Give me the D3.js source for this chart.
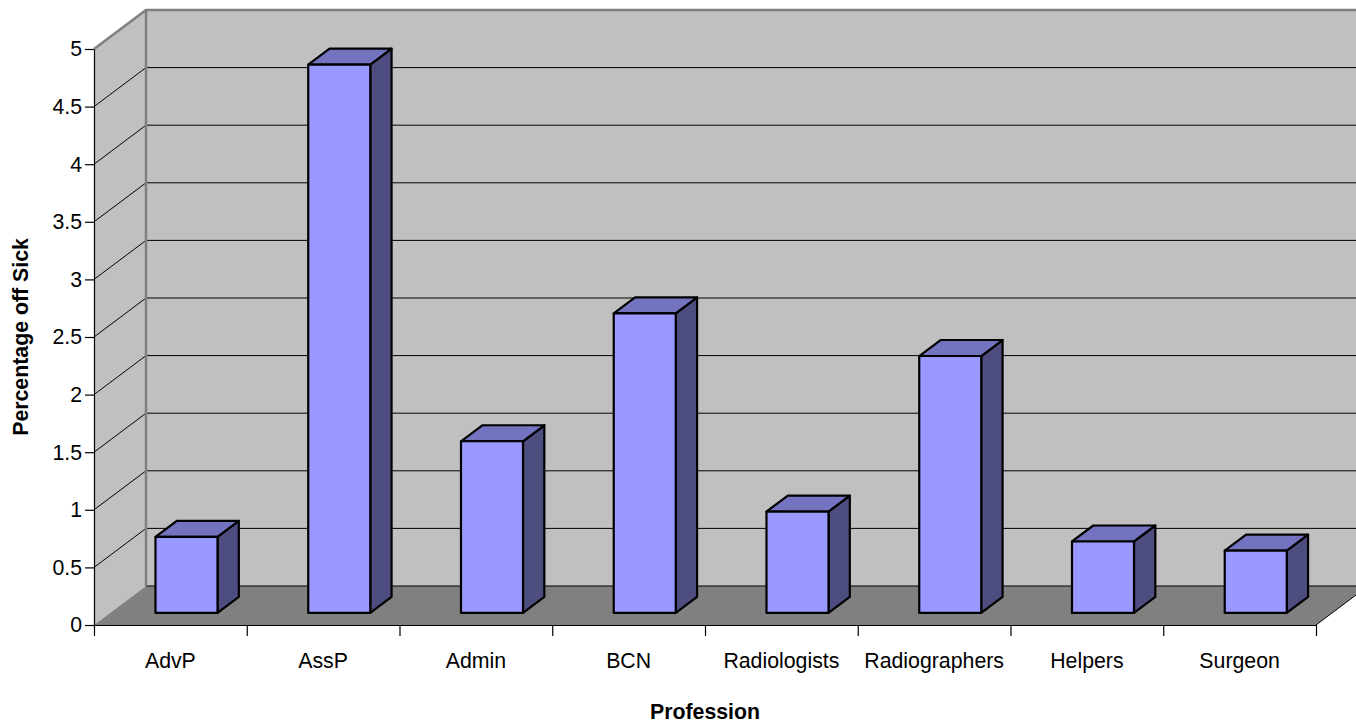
<!DOCTYPE html>
<html>
<head>
<meta charset="utf-8">
<script src="https://cdn.jsdelivr.net/npm/d3@7"></script>
<style>
  html, body { margin: 0; padding: 0; background: #ffffff; }
  svg { display: block; font-family: "Liberation Sans", Arial, sans-serif; }
</style>
</head>
<body>
<svg id="chart" width="1356" height="724"></svg>
<script>
// Sickness absence by profession
const categories = ["AdvP", "AssP", "Admin", "BCN", "Radiologists", "Radiographers", "Helpers", "Surgeon"];
const values = [0.66, 4.76, 1.49, 2.6, 0.88, 2.23, 0.62, 0.54];
const yTicks = [0, 0.5, 1, 1.5, 2, 2.5, 3, 3.5, 4, 4.5, 5];
const yTickLabels = ["0", "0.5", "1", "1.5", "2", "2.5", "3", "3.5", "4", "4.5", "5"];

(function () {
  const W = 1356;
  const fontSize = 21.3;
  const font = "'Liberation Sans', Arial, sans-serif";
  const svg = d3.select("#chart");

  // front plane of the plot and the depth vector of the 3-D box
  const plotLeft = 94, plotRight = 1316, plotBottom = 625, plotTop = 49;
  const depth = { x: 52, y: -39 };
  const barFront = 0.31, barBack = 0.72;

  const x = d3.scaleBand().domain(categories).range([plotLeft, plotRight])
    .paddingInner(0.594).paddingOuter(0.297);
  const xEdge = d3.scaleLinear().domain([0, categories.length]).range([plotLeft, plotRight]);
  const y = d3.scaleLinear().domain([0, 5]).range([plotBottom, plotTop]);

  const off = f => ({ x: depth.x * f, y: depth.y * f });
  const pts = arr => arr.map(p => p.join(",")).join(" ");

  // left wall
  svg.append("polygon")
    .attr("points", pts([[plotLeft, y(0)], [plotLeft, y(5)], [plotLeft + depth.x, y(5) + depth.y], [plotLeft + depth.x, y(0) + depth.y]]))
    .attr("fill", "#c0c0c0");
  // back wall
  svg.append("rect")
    .attr("x", plotLeft + depth.x).attr("y", y(5) + depth.y)
    .attr("width", W - (plotLeft + depth.x) + 10).attr("height", y(0) - y(5))
    .attr("fill", "#c0c0c0");
  // floor
  svg.append("polygon")
    .attr("points", pts([[plotLeft, y(0)], [plotLeft + depth.x, y(0) + depth.y], [plotRight + depth.x, y(0) + depth.y], [plotRight, y(0)]]))
    .attr("fill", "#808080");
  svg.append("line")
    .attr("x1", plotRight).attr("y1", y(0))
    .attr("x2", plotRight + depth.x).attr("y2", y(0) + depth.y)
    .attr("stroke", "#000").attr("stroke-width", 1);

  // gridlines on left and back walls
  const grid = svg.append("g").attr("stroke", "#000").attr("stroke-width", 1).attr("fill", "none");
  yTicks.filter(v => v > 0 && v < 5).forEach(v => {
    grid.append("line")
      .attr("x1", plotLeft).attr("y1", y(v))
      .attr("x2", plotLeft + depth.x).attr("y2", y(v) + depth.y);
    grid.append("line")
      .attr("x1", plotLeft + depth.x).attr("y1", y(v) + depth.y)
      .attr("x2", W).attr("y2", y(v) + depth.y);
  });
  grid.append("line")
    .attr("x1", plotLeft + depth.x).attr("y1", y(0) + depth.y)
    .attr("x2", W).attr("y2", y(0) + depth.y);

  // wall edges
  const edge = svg.append("g").attr("stroke", "#808080").attr("stroke-width", 2.5).attr("fill", "none");
  edge.append("polyline")
    .attr("points", pts([[plotLeft, y(5)], [plotLeft + depth.x, y(5) + depth.y], [W, y(5) + depth.y]]));
  edge.append("line")
    .attr("x1", plotLeft + depth.x).attr("y1", y(5) + depth.y)
    .attr("x2", plotLeft + depth.x).attr("y2", y(0) + depth.y);

  // axes
  const yAxis = d3.axisLeft(y).tickValues(yTicks)
    .tickFormat((d, i) => yTickLabels[i]).tickSize(9).tickSizeOuter(0).tickPadding(3);
  const gy = svg.append("g").attr("transform", `translate(${plotLeft},0)`).call(yAxis);
  gy.attr("font-size", fontSize).attr("font-family", font);
  gy.selectAll("text").attr("fill", "#000");
  gy.selectAll("line, path").attr("stroke", "#000").attr("stroke-width", 1.2);

  const xTickAxis = d3.axisBottom(xEdge).tickValues(d3.range(categories.length + 1))
    .tickFormat("").tickSize(11).tickSizeOuter(0);
  const gxt = svg.append("g").attr("transform", `translate(0,${plotBottom})`).call(xTickAxis);
  gxt.selectAll("line, path").attr("stroke", "#000").attr("stroke-width", 1.2);

  const xAxis = d3.axisBottom(x).tickSize(0).tickPadding(28);
  const gx = svg.append("g").attr("transform", `translate(0,${plotBottom})`).call(xAxis);
  gx.attr("font-size", fontSize).attr("font-family", font);
  gx.select("path").remove();
  gx.selectAll("text").attr("fill", "#000");

  // bars: right, top and front faces
  const f0 = off(barFront), f1 = off(barBack);
  const bars = svg.append("g").attr("stroke", "#000").attr("stroke-width", 2.2).attr("stroke-linejoin", "round");
  categories.forEach((c, i) => {
    const x0 = x(c) + f0.x, x1 = x0 + x.bandwidth();
    const yb = y(0) + f0.y, yt = y(values[i]) + f0.y;
    const dx = f1.x - f0.x, dy = f1.y - f0.y;
    const g = bars.append("g");
    g.append("polygon")
      .attr("points", pts([[x1, yb], [x1, yt], [x1 + dx, yt + dy], [x1 + dx, yb + dy]]))
      .attr("fill", "#4d4d80");
    g.append("polygon")
      .attr("points", pts([[x0, yt], [x0 + dx, yt + dy], [x1 + dx, yt + dy], [x1, yt]]))
      .attr("fill", "#7373bf");
    g.append("rect")
      .attr("x", x0).attr("y", yt).attr("width", x1 - x0).attr("height", yb - yt)
      .attr("fill", "#9999ff");
  });

  // axis titles
  svg.append("text")
    .attr("transform", `translate(28,${(plotTop + plotBottom) / 2}) rotate(-90)`)
    .attr("text-anchor", "middle").attr("font-size", fontSize).attr("font-weight", "bold")
    .attr("font-family", font)
    .text("Percentage off Sick");
  svg.append("text")
    .attr("x", (plotLeft + plotRight) / 2).attr("y", 719)
    .attr("text-anchor", "middle").attr("font-size", fontSize).attr("font-weight", "bold")
    .attr("font-family", font)
    .text("Profession");
})();
</script>
</body>
</html>
